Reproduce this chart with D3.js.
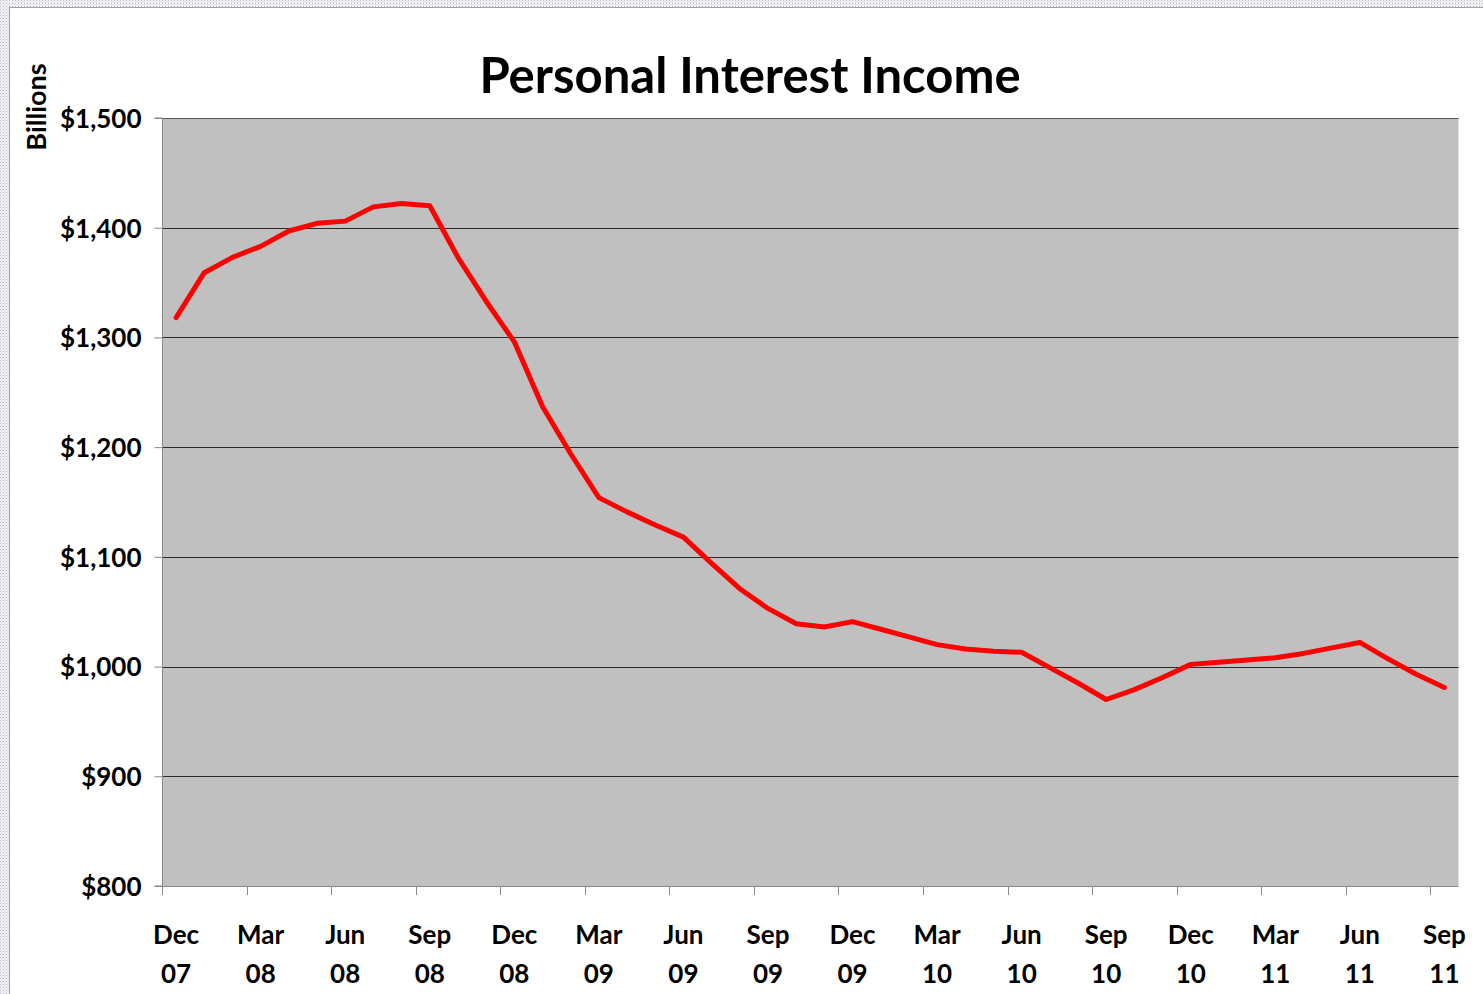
<!DOCTYPE html>
<html>
<head>
<meta charset="utf-8">
<script src="https://cdn.jsdelivr.net/npm/d3@7"></script>
<style>
  html, body { margin: 0; padding: 0; background: #fff; }
  svg { display: block; }
  text { font-family: Lato, "Open Sans", sans-serif; font-weight: bold; fill: #000; }
</style>
</head>
<body>
<svg id="chart" width="1483" height="994"></svg>
<script>
const months = ["Dec 07","Jan 08","Feb 08","Mar 08","Apr 08","May 08","Jun 08","Jul 08","Aug 08","Sep 08","Oct 08","Nov 08",
  "Dec 08","Jan 09","Feb 09","Mar 09","Apr 09","May 09","Jun 09","Jul 09","Aug 09","Sep 09","Oct 09","Nov 09",
  "Dec 09","Jan 10","Feb 10","Mar 10","Apr 10","May 10","Jun 10","Jul 10","Aug 10","Sep 10","Oct 10","Nov 10",
  "Dec 10","Jan 11","Feb 11","Mar 11","Apr 11","May 11","Jun 11","Jul 11","Aug 11","Sep 11"];
const income = [1318,1359,1373,1383,1397,1404,1406,1419,1422,1420,1373,1333,
  1296,1237,1194,1154,1141,1129,1118,1094,1071,1053,1039,1036,
  1041,1034,1027,1020,1016,1014,1013,999,985,970,979,990,
  1002,1004,1006,1008,1012,1017,1022,1007,993,981];
const yTicks = [800,900,1000,1100,1200,1300,1400,1500];
const title = "Personal Interest Income";
const yTitle = "Billions";

const svg = d3.select("#chart");
const W = 1483, H = 994;
const m = {left: 162, right: 1458.5, top: 118, bottom: 886};

// frame pattern
const defs = svg.append("defs");
const pat = defs.append("pattern").attr("id","dots").attr("width",3).attr("height",3).attr("patternUnits","userSpaceOnUse");
pat.append("rect").attr("width",3).attr("height",3).attr("fill","#f4f4f6");
pat.append("rect").attr("width",1).attr("height",1).attr("fill","#b8b8c4");
pat.append("rect").attr("x",1.5).attr("y",1.5).attr("width",1).attr("height",1).attr("fill","#c8c8d2");
svg.append("rect").attr("x",0).attr("y",0).attr("width",W).attr("height",7).attr("fill","url(#dots)");
svg.append("rect").attr("x",0).attr("y",0).attr("width",9).attr("height",H).attr("fill","url(#dots)");
svg.append("line").attr("x1",9).attr("x2",W).attr("y1",7.5).attr("y2",7.5).attr("stroke","#a0a0a0");
svg.append("line").attr("x1",9.5).attr("x2",9.5).attr("y1",7).attr("y2",H).attr("stroke","#a0a0a0");

const x = d3.scaleBand().domain(months).range([m.left, m.right]).paddingInner(0).paddingOuter(0);
const y = d3.scaleLinear().domain([800,1500]).range([m.bottom, m.top]);

// plot background
svg.append("rect").attr("x",m.left).attr("y",m.top).attr("width",m.right-m.left).attr("height",m.bottom-m.top).attr("fill","#c0c0c0");

// gridlines
svg.append("g").selectAll("line").data(yTicks.filter(d => d > 800)).join("line")
  .attr("x1", m.left).attr("x2", m.right)
  .attr("y1", d => Math.round(y(d)) + 0.5).attr("y2", d => Math.round(y(d)) + 0.5)
  .attr("stroke", d => d === 1500 ? "#555" : "#2a2a2a").attr("stroke-width", 1);

// y axis
const yAxis = d3.axisLeft(y).tickValues(yTicks).tickSize(8).tickPadding(13)
  .tickFormat(d => "$" + d3.format(",")(d));
const gy = svg.append("g").attr("transform", `translate(${m.left+0.5},0)`).call(yAxis);
gy.select(".domain").attr("stroke","#888").attr("d", `M-8,${y(1500)}H0V${y(800)}H-8`);
gy.selectAll(".tick line").attr("stroke","#888");
gy.selectAll(".tick text").style("font-size","26px").attr("dy","0.36em");

// x axis: ticks at every 3rd band boundary, labels at every 3rd band centre
const boundaryIdx = d3.range(0, months.length, 3);
const gx = svg.append("g");
gx.append("line").attr("x1", m.left).attr("x2", m.right).attr("y1", m.bottom+0.5).attr("y2", m.bottom+0.5).attr("stroke","#888");
gx.selectAll("line.tk").data(boundaryIdx).join("line").attr("class","tk")
  .attr("x1", i => Math.round(x(months[i]))+0.5).attr("x2", i => Math.round(x(months[i]))+0.5)
  .attr("y1", m.bottom).attr("y2", m.bottom+9).attr("stroke","#888");
const lbl = gx.selectAll("text").data(boundaryIdx).join("text")
  .attr("text-anchor","middle").style("font-size","26px")
  .attr("transform", i => `translate(${x(months[i]) + x.bandwidth()/2},0)`);
lbl.append("tspan").attr("x",0).attr("y",944).text(i => months[i].split(" ")[0]);
lbl.append("tspan").attr("x",0).attr("y",983).text(i => months[i].split(" ")[1]);

// line
const line = d3.line().x((d,i) => x(months[i]) + x.bandwidth()/2).y(d => y(d));
svg.append("path").datum(income).attr("d", line).attr("fill","none")
  .attr("stroke","#ff0000").attr("stroke-width",5).attr("stroke-linejoin","round").attr("stroke-linecap","round");

// titles
svg.append("text").attr("x", 750).attr("y", 93).attr("text-anchor","middle").style("font-size","49px").text(title);
svg.append("text").attr("transform","translate(46,107) rotate(-90)").attr("text-anchor","middle").style("font-size","27px").text(yTitle);
</script>
</body>
</html>
